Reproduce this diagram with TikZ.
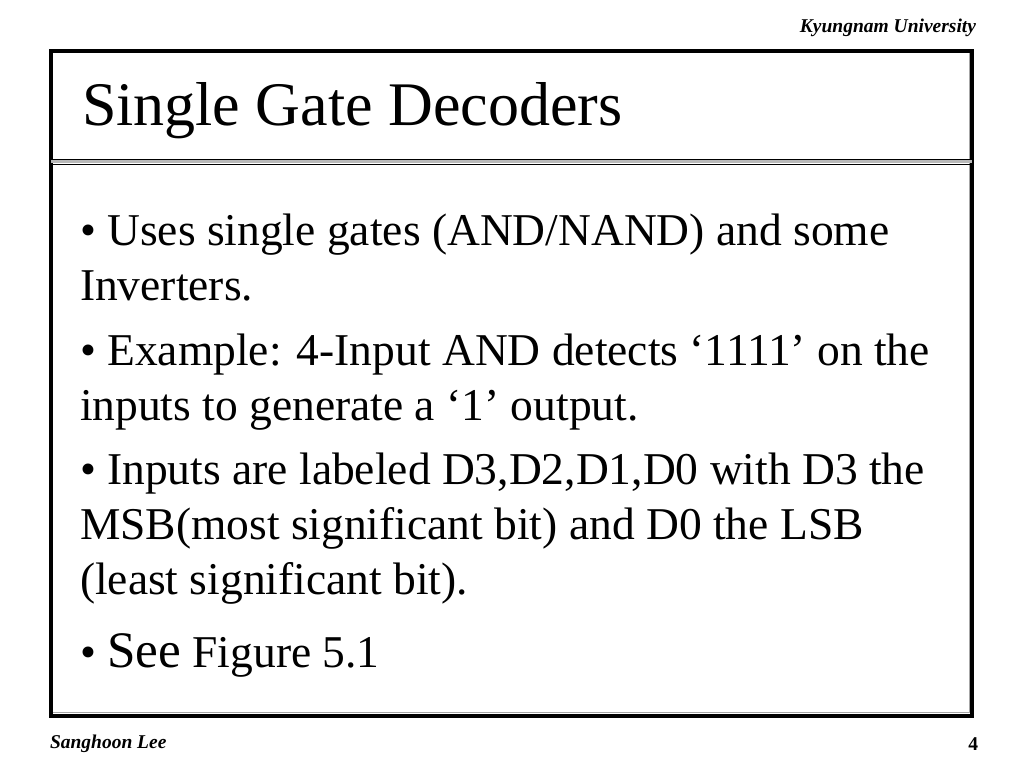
\documentclass[tikz,border=0pt]{standalone}
\usepackage{fontspec}
\setmainfont{Liberation Serif}
\begin{document}
\begin{tikzpicture}[x=1pt,y=-1pt,
  txt/.style={anchor=base west,inner sep=0pt,outer sep=0pt},
  body/.style={txt,font=\fontsize{45.5}{55}\selectfont},
  foot/.style={inner sep=0pt,outer sep=0pt,font=\fontsize{19.5}{22}\selectfont\bfseries\itshape}]
\useasboundingbox[fill=white] (0,0) rectangle (1024,768);
% frame
\draw[gray!70,line width=1pt] (969,53) -- (969,712.5) -- (53,712.5);
\draw[black,line width=4pt] (51,51.5) rectangle (972,715.5);
% double separator
\fill[gray!55] (51,160.2) rectangle (972,163.4);
\draw[black,line width=1.4pt] (51,159.3) -- (972,159.3);
\draw[black,line width=1.4pt] (51,164.3) -- (972,164.3);
% title
\node[txt,font=\fontsize{62}{70}\selectfont] (title) at (82,125) {Single Gate Decoders};
% body
\node[body] (l1) at (80,245) {• Uses single gates (AND/NAND) and some};
\node[body] (l2) at (80,300) {Inverters.};
\node[body] (l3) at (80,365) {• Example: 4-Input AND detects ‘1111’ on the};
\node[body] (l4) at (80,420) {inputs to generate a ‘1’ output.};
\node[body] (l5) at (80,484) {• Inputs are labeled D3,D2,D1,D0 with D3 the};
\node[body] (l6) at (80,539) {MSB(most significant bit) and D0 the LSB};
\node[body] (l7) at (80,594) {(least significant bit).};
\node[body] (l8) at (80,667) {• {\fontsize{51.2}{60}\selectfont See} Figure 5.1};
% footers
\node[foot,anchor=base east] (uni) at (976,33) {Kyungnam University};
\node[foot,anchor=base west] (auth) at (50,748) {Sanghoon Lee};
\node[foot,anchor=base east,font=\fontsize{19.5}{22}\selectfont\bfseries] (page) at (978,750) {4};
\end{tikzpicture}
\end{document}
